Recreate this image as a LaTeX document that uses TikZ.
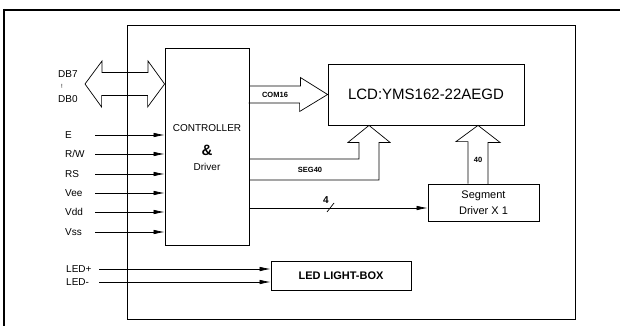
\documentclass[tikz,border=0pt]{standalone}
\usepackage{fontspec}
\setmainfont{Liberation Sans}
\usetikzlibrary{arrows.meta,calc}
\begin{document}
\begin{tikzpicture}[
        x=1pt, y=-1pt,
        >={Latex[length=11pt,width=4.5pt]},
        every node/.style={inner sep=0pt}
    ]
    \tikzset  {
        block/.style = {draw, line width=0.8pt, inner sep=0pt},
        sig/.style = {anchor=west, font=\fontsize{10}{12}\selectfont},
        tag/.style = {font=\fontsize{7.5}{9}\selectfont\bfseries},
        wire/.style = {->, line width=0.7pt},
        bus/.style = {line width=0.7pt, line join=miter},
    }
    \useasboundingbox (0,0) rectangle (620,326);
    \draw[line width=2pt] (4,10) -- (620,10);
    \draw[line width=1.5pt] (4,9) -- (4,326);
    \draw[line width=0.8pt] (127,25) rectangle (575,319);

    \node[block, minimum width=84pt, minimum height=197pt] (ctrl) at (207,146.5) {};
    \node[font=\fontsize{10}{12}\selectfont] (ctrlA) at (207,128) {CONTROLLER};
    \node[font=\fontsize{15}{16}\selectfont\bfseries] (ctrlB) at (207,150) {\&};
    \node[font=\fontsize{10}{12}\selectfont] (ctrlC) at (207,167) {Driver};

    \node[block, minimum width=196pt, minimum height=61pt, font=\fontsize{15}{16}\selectfont] (lcd) at (426,94.5) {LCD:YMS162-22AEGD};
    \node[block, minimum width=111pt, minimum height=37pt, align=center, font=\fontsize{11}{16}\selectfont] (seg) at (483.5,202.5) {Segment\\Driver X 1};
    \node[block, minimum width=140pt, minimum height=29pt, font=\fontsize{11}{13}\selectfont\bfseries] (led) at (341,275.5) {LED LIGHT-BOX};

    \node[sig] (db7) at (58,74) {DB7};
    \node[font=\fontsize{6}{6}\selectfont] (dbsep) at (62,86) {!};
    \node[sig] (db0) at (58,99) {DB0};
    \coordinate (dbL) at (85,84);
    \coordinate (dbR) at (ctrl.west |- 0,84);
    \draw[bus] (dbL) -- ++(17,-23) -- ++(0,11.5) -- ++(46,0) -- ++(0,-11.5) -- (dbR)
        -- ++(-17,23) -- ++(0,-11.5) -- ++(-46,0) -- ++(0,11.5) -- cycle;

    \foreach \lab/\yy [count=\i] in {E/135,{R/W}/154,RS/174,Vee/193,Vdd/212,Vss/232} {
        \node[sig] (pin\i) at (65,\yy) {\lab};
        \coordinate (pinL\i) at (95,\yy);
        \draw[wire] (pinL\i) -- (pinL\i -| ctrl.west);
    }
    \foreach \lab/\yy [count=\i] in {LED+/269,LED-/282} {
        \node[sig] (ledpin\i) at (66,\yy) {\lab};
        \coordinate (ledL\i) at (99,\yy);
        \draw[wire] (ledL\i) -- (ledL\i -| led.west);
    }

    \draw[bus] (ctrl.east |- lcd.west) ++(0,-8.5) -- ++(51,0) -- ++(0,-8.5) -- (lcd.west)
        -- ++(-28,17) -- ++(0,-8.5) -- ++(-51,0);
    \node[tag] (com) at (275,95) {COM16};

    \coordinate (segtip) at ([xshift=-57pt]lcd.south);
    \draw[bus] (ctrl.east |- 0,159) -| ($(segtip)+(-10,17)$) -- ++(-11,0) -- (segtip)
        -- ++(21,17) -- ++(-11,0) |- (ctrl.east |- 0,180);
    \node[tag] (seglab) at (310,170) {SEG40};

    \coordinate (t40) at ([xshift=-5.5pt]seg.north);
    \draw[bus] ([xshift=-10pt]t40) -- ++(0,-42) -- ++(-12,0) -- (t40 |- lcd.south)
        -- ++(22,17) -- ++(-12,0) -- ++(0,42);
    \node[tag] (n40) at (478,160) {40};

    \coordinate (b4) at ([yshift=-5.5pt]seg.west);
    \draw[wire] (b4 -| ctrl.east) -- (b4);
    \draw[line width=0.7pt] (327,212) -- (334,203);
    \node[font=\fontsize{10}{10}\selectfont\bfseries] (n4) at (326,200) {4};
\end{tikzpicture}
\end{document}
